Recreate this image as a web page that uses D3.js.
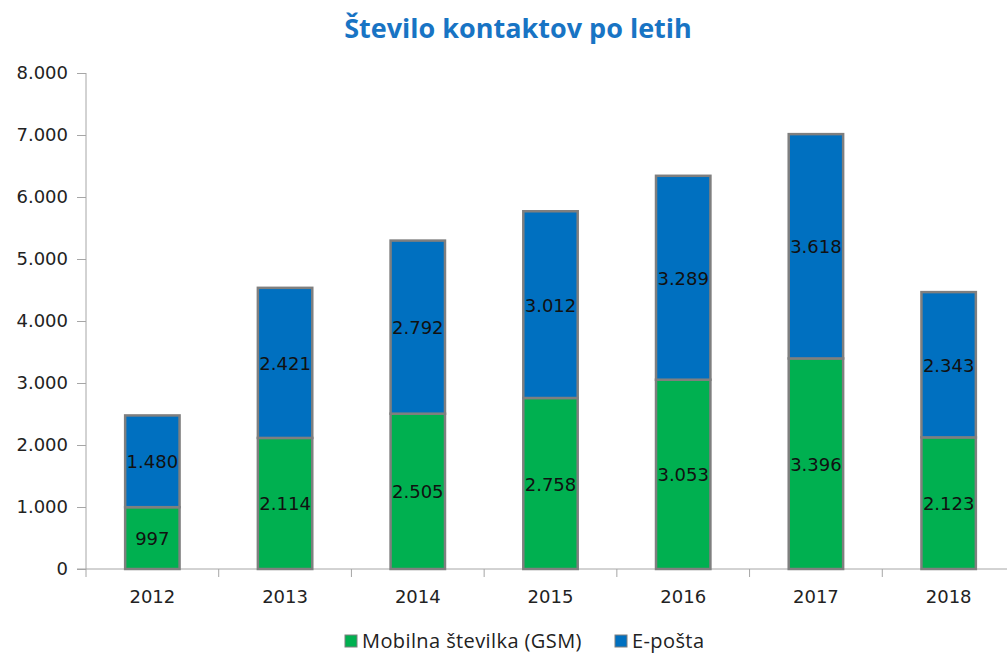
<!DOCTYPE html>
<html>
<head>
<meta charset="utf-8">
<script src="https://cdn.jsdelivr.net/npm/d3@7"></script>
<style>
  body { margin: 0; background: #fff; }
  svg { display: block; }
</style>
</head>
<body>
<svg id="chart" width="1007" height="653"></svg>
<script>
// data
var years = ["2012", "2013", "2014", "2015", "2016", "2017", "2018"];
var gsm = [997, 2114, 2505, 2758, 3053, 3396, 2123];
var email = [1480, 2421, 2792, 3012, 3289, 3618, 2343];
var seriesNames = ["Mobilna številka (GSM)", "E-pošta"];
var seriesColors = ["#00b050", "#0070c0"];
var yTicks = [0, 1000, 2000, 3000, 4000, 5000, 6000, 7000, 8000];

var svg = d3.select("#chart");
var plotLeft = 86, plotRight = 1015, plotTop = 73, plotBottom = 569;

var fmt = function (v) {
    return d3.format(",")(v).replace(/,/g, ".");
};

var x = d3.scaleBand()
    .domain(years)
    .range([plotLeft, plotRight])
    .paddingInner(0.59)
    .paddingOuter(0.295);

var y = d3.scaleLinear()
    .domain([0, 8000])
    .range([plotBottom, plotTop]);

//title
svg.append("text")
    .attr("x", 518)
    .attr("y", 38)
    .attr("text-anchor", "middle")
    .attr("font-family", "Open Sans")
    .attr("font-weight", "bold")
    .attr("font-size", "27px")
    .attr("fill", "#1874c4")
    .text("Število kontaktov po letih");

//y axis
var yAxis = svg.append("g")
    .attr("transform", "translate(" + plotLeft + ",0)")
    .call(d3.axisLeft(y).tickValues(yTicks).tickSize(9).tickPadding(9).tickFormat(fmt));
yAxis.select(".domain").attr("stroke", "#a6a6a6").attr("d", "M0," + plotTop + "V" + plotBottom);
yAxis.selectAll(".tick line").attr("stroke", "#a6a6a6");
yAxis.selectAll(".tick text")
    .attr("font-family", "DejaVu Sans")
    .attr("font-size", "18px")
    .attr("fill", "#222");

//x axis, ticks at category boundaries
var boundaries = d3.range(years.length + 1).map(function (i) {
    return plotLeft + i * x.step();
});
var xAxis = svg.append("g");
xAxis.append("line")
    .attr("x1", plotLeft - 9)
    .attr("x2", 1007)
    .attr("y1", plotBottom)
    .attr("y2", plotBottom)
    .attr("stroke", "#a6a6a6");
xAxis.selectAll(".bt")
    .data(boundaries)
    .enter().append("line")
    .attr("x1", function (d) { return d; })
    .attr("x2", function (d) { return d; })
    .attr("y1", plotBottom)
    .attr("y2", plotBottom + 8)
    .attr("stroke", "#a6a6a6");
xAxis.selectAll(".yl")
    .data(years)
    .enter().append("text")
    .attr("x", function (d) { return x(d) + x.bandwidth() / 2; })
    .attr("y", 603)
    .attr("text-anchor", "middle")
    .attr("font-family", "DejaVu Sans")
    .attr("font-size", "18px")
    .attr("fill", "#222")
    .text(function (d) { return d; });

//stacked bars
var rows = years.map(function (yr, i) {
    return { year: yr, gsm: gsm[i], email: email[i] };
});
var stack = d3.stack().keys(["gsm", "email"])(rows);

var layers = svg.selectAll(".layer")
    .data(stack)
    .enter().append("g")
    .attr("fill", function (d, i) { return seriesColors[i]; });

layers.selectAll("rect")
    .data(function (d) { return d; })
    .enter().append("rect")
    .attr("x", function (d) { return x(d.data.year); })
    .attr("y", function (d) { return y(d[1]); })
    .attr("width", x.bandwidth())
    .attr("height", function (d) { return y(d[0]) - y(d[1]); })
    .attr("stroke", "#7f7f7f")
    .attr("stroke-width", 2.5);

var labels = svg.append("g");
stack.forEach(function (layer) {
    labels.selectAll(null)
        .data(layer)
        .enter().append("text")
        .attr("x", function (d) { return x(d.data.year) + x.bandwidth() / 2; })
        .attr("y", function (d) { return (y(d[0]) + y(d[1])) / 2 + 7; })
        .attr("text-anchor", "middle")
        .attr("font-family", "DejaVu Sans")
        .attr("font-size", "18px")
        .attr("fill", "#111")
        .text(function (d) { return fmt(d[1] - d[0]); });
});

//legend
var legendX = [345, 615];
var legend = svg.selectAll(".legend")
    .data(seriesNames)
    .enter().append("g")
    .attr("transform", function (d, i) { return "translate(" + legendX[i] + ",635)"; });
legend.append("rect")
    .attr("width", 12)
    .attr("height", 12)
    .attr("fill", function (d, i) { return seriesColors[i]; })
    .attr("stroke", "#7f7f7f")
    .attr("stroke-width", 1);
legend.append("text")
    .attr("x", 17)
    .attr("y", 13)
    .attr("font-family", "Open Sans")
    .attr("font-size", "20px")
    .attr("letter-spacing", "0.4px")
    .attr("fill", "#222")
    .text(function (d) { return d; });
</script>
</body>
</html>
